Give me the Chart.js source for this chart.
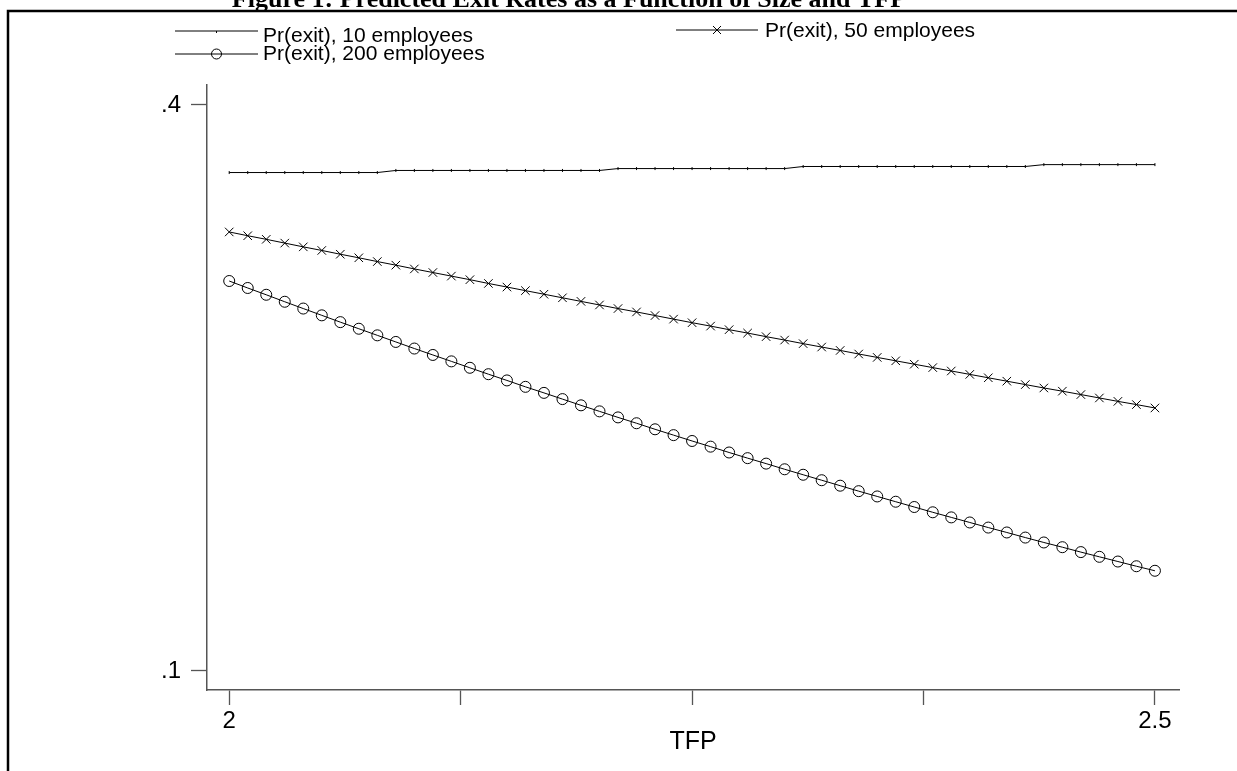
<!DOCTYPE html>
<html>
<head>
<meta charset="utf-8">
<script src="https://cdn.jsdelivr.net/npm/chart.js"></script>
<style>
  html, body { margin: 0; padding: 0; background: #fff; }
  #wrap { position: relative; width: 1237px; height: 771px; }
</style>
</head>
<body>
<div id="wrap"><canvas id="graph" width="1237" height="771"></canvas></div>
<script>
// -------------------------
// DATA
// -------------------------
const titleText = "Figure 1: Predicted Exit Rates as a Function of Size and TFP";
const seriesNames = ["Pr(exit), 10 employees", "Pr(exit), 50 employees", "Pr(exit), 200 employees"];

const tfp = [
  2.00, 2.01, 2.02, 2.03, 2.04, 2.05, 2.06, 2.07, 2.08, 2.09,
  2.10, 2.11, 2.12, 2.13, 2.14, 2.15, 2.16, 2.17, 2.18, 2.19,
  2.20, 2.21, 2.22, 2.23, 2.24, 2.25, 2.26, 2.27, 2.28, 2.29,
  2.30, 2.31, 2.32, 2.33, 2.34, 2.35, 2.36, 2.37, 2.38, 2.39,
  2.40, 2.41, 2.42, 2.43, 2.44, 2.45, 2.46, 2.47, 2.48, 2.49,
  2.50
];

const exit10 = [
  0.3642, 0.3642, 0.3642, 0.3642, 0.3642, 0.3642, 0.3642, 0.3642, 0.3642, 0.3653,
  0.3653, 0.3653, 0.3653, 0.3653, 0.3653, 0.3653, 0.3653, 0.3653, 0.3653, 0.3653,
  0.3653, 0.3663, 0.3663, 0.3663, 0.3663, 0.3663, 0.3663, 0.3663, 0.3663, 0.3663,
  0.3663, 0.3674, 0.3674, 0.3674, 0.3674, 0.3674, 0.3674, 0.3674, 0.3674, 0.3674,
  0.3674, 0.3674, 0.3674, 0.3674, 0.3684, 0.3684, 0.3684, 0.3684, 0.3684, 0.3684,
  0.3684
];

const exit50 = [
  0.3327, 0.3307, 0.3288, 0.3268, 0.3248, 0.3229, 0.3209, 0.3190, 0.3170, 0.3151,
  0.3131, 0.3112, 0.3093, 0.3074, 0.3054, 0.3035, 0.3016, 0.2997, 0.2978, 0.2959,
  0.2940, 0.2921, 0.2903, 0.2884, 0.2865, 0.2846, 0.2828, 0.2809, 0.2791, 0.2772,
  0.2754, 0.2735, 0.2717, 0.2699, 0.2680, 0.2662, 0.2644, 0.2626, 0.2608, 0.2590,
  0.2572, 0.2554, 0.2536, 0.2518, 0.2500, 0.2483, 0.2465, 0.2447, 0.2429, 0.2412,
  0.2394
];

const exit200 = [
  0.3067, 0.3030, 0.2994, 0.2957, 0.2921, 0.2885, 0.2849, 0.2814, 0.2779, 0.2744,
  0.2709, 0.2675, 0.2641, 0.2607, 0.2573, 0.2540, 0.2506, 0.2474, 0.2441, 0.2408,
  0.2376, 0.2344, 0.2313, 0.2281, 0.2250, 0.2219, 0.2189, 0.2158, 0.2128, 0.2099,
  0.2069, 0.2040, 0.2011, 0.1982, 0.1953, 0.1925, 0.1897, 0.1869, 0.1841, 0.1814,
  0.1787, 0.1760, 0.1734, 0.1707, 0.1681, 0.1656, 0.1630, 0.1605, 0.1580, 0.1555,
  0.1531
];

const xTicks = [2, 2.125, 2.25, 2.375, 2.5];
const xTickLabels = ["2", "", "", "", "2.5"];
const yTicks = [0.1, 0.4];
const yTickLabels = [".1", ".4"];

const SANS = "'Liberation Sans', Arial, sans-serif";

// -------------------------
// MARKERS (legend keys)
// -------------------------
function drawMark(ctx, kind, x, y) {
  ctx.beginPath();
  if (kind === "tick") {
    ctx.moveTo(x, y); ctx.lineTo(x, y + 2);
  } else if (kind === "cross") {
    const d = 4;
    ctx.moveTo(x - d, y - d); ctx.lineTo(x + d, y + d);
    ctx.moveTo(x - d, y + d); ctx.lineTo(x + d, y - d);
  } else if (kind === "circle") {
    ctx.arc(x, y, 5, 0, Math.PI * 2);
  }
  ctx.stroke();
}

const legendKeys = [
  { kind: "tick",   x0: 175, x1: 258, y: 31, tx: 263, ty: 36 },
  { kind: "cross",  x0: 676, x1: 758, y: 30, tx: 765, ty: 31 },
  { kind: "circle", x0: 175, x1: 258, y: 54, tx: 263, ty: 54 }
];

// -------------------------
// TITLE, FRAME, LEGEND
// -------------------------
const framePlugin = {
  id: "frame",
  afterDraw(chart) {
    const ctx = chart.ctx;
    ctx.save();
    ctx.fillStyle = "#000";
    ctx.font = "bold 26px 'Liberation Serif', 'Times New Roman', serif";
    ctx.textAlign = "center";
    ctx.textBaseline = "alphabetic";
    ctx.fillText(titleText, 569, 7);

    ctx.strokeStyle = "#000";
    ctx.lineWidth = 2.5;
    ctx.beginPath();
    ctx.moveTo(8, 771);
    ctx.lineTo(8, 11);
    ctx.lineTo(1237, 11);
    ctx.stroke();

    ctx.lineWidth = 1;
    ctx.font = "21px " + SANS;
    ctx.textAlign = "left";
    ctx.textBaseline = "middle";
    legendKeys.forEach((k, i) => {
      ctx.beginPath();
      ctx.moveTo(k.x0, k.y);
      ctx.lineTo(k.x1, k.y);
      ctx.stroke();
      drawMark(ctx, k.kind, (k.x0 + k.x1) / 2, k.y);
      ctx.fillText(seriesNames[i], k.tx, k.ty);
    });
    ctx.restore();
  }
};

// -------------------------
// CHART
// -------------------------
function toPoints(ys) {
  return tfp.map((x, i) => ({ x: x, y: ys[i] }));
}

const axisGrey = "#555";

new Chart(document.getElementById("graph").getContext("2d"), {
  type: "line",
  data: {
    datasets: [
      {
        label: seriesNames[0],
        data: toPoints(exit10),
        borderColor: "#000",
        borderWidth: 1,
        pointStyle: "line",
        pointRotation: 90,
        pointRadius: 1.5,
        pointBorderWidth: 1,
        pointBorderColor: "#000",
        tension: 0
      },
      {
        label: seriesNames[1],
        data: toPoints(exit50),
        borderColor: "#000",
        borderWidth: 1,
        pointStyle: "crossRot",
        pointRadius: 6,
        pointBorderWidth: 1,
        pointBorderColor: "#000",
        tension: 0
      },
      {
        label: seriesNames[2],
        data: toPoints(exit200),
        borderColor: "#000",
        borderWidth: 1,
        pointStyle: "circle",
        pointRadius: 5.5,
        pointBorderWidth: 1,
        pointBorderColor: "#000",
        pointBackgroundColor: "rgba(0,0,0,0)",
        tension: 0
      }
    ]
  },
  options: {
    responsive: false,
    animation: false,
    devicePixelRatio: 1,
    layout: { padding: { top: 85, right: 58, left: 0, bottom: 0 } },
    plugins: { legend: { display: false }, tooltip: { enabled: false } },
    scales: {
      x: {
        type: "linear",
        min: 1.988,
        max: 2.513,
        afterBuildTicks: s => { s.ticks = xTicks.map(v => ({ value: v })); },
        afterFit: s => { s.height = 81; },
        ticks: {
          callback: (v, i) => xTickLabels[i],
          font: { family: SANS, size: 24 },
          color: "#000",
          padding: 2,
          maxRotation: 0,
          autoSkip: false
        },
        grid: { drawOnChartArea: false, drawTicks: true, tickLength: 15, tickColor: axisGrey, tickWidth: 1.3 },
        border: { display: true, color: axisGrey, width: 1.5 },
        title: {
          display: true,
          text: "TFP",
          font: { family: SANS, size: 25 },
          color: "#000",
          padding: { top: 0, bottom: 14 }
        }
      },
      y: {
        min: 0.0899,
        max: 0.4106,
        afterBuildTicks: s => { s.ticks = yTicks.map(v => ({ value: v })); },
        afterFit: s => { s.width = 207; },
        ticks: {
          callback: (v, i) => yTickLabels[i],
          font: { family: SANS, size: 24 },
          color: "#000",
          padding: 10,
          autoSkip: false
        },
        grid: { drawOnChartArea: false, drawTicks: true, tickLength: 16, tickColor: axisGrey, tickWidth: 1.3 },
        border: { display: true, color: axisGrey, width: 1.5 }
      }
    }
  },
  plugins: [framePlugin]
});
</script>
</body>
</html>
